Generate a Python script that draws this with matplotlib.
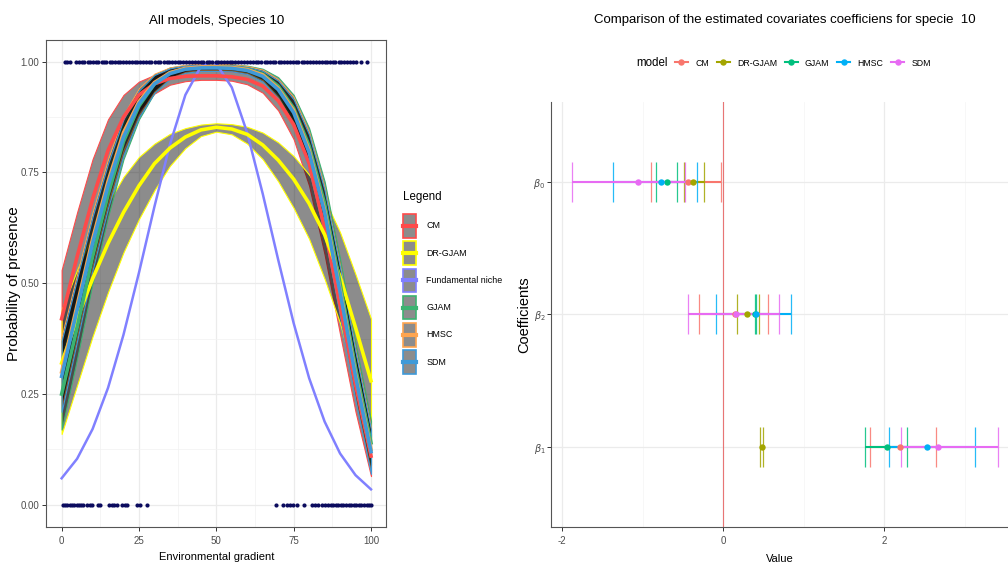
import numpy as np
import matplotlib.pyplot as plt
from matplotlib.patches import Rectangle
from matplotlib.lines import Line2D

plt.rcParams['font.family'] = ['Liberation Sans', 'DejaVu Sans']

# ---- left panel: predicted probability of presence along the gradient ----
grad_x = [0, 5, 10, 15, 20, 25, 30, 35, 40, 45, 50, 55, 60, 65, 70, 75, 80, 85, 90, 95, 100]

cm_mean = [0.42, 0.56, 0.69, 0.80, 0.875, 0.925, 0.95, 0.962, 0.967, 0.968, 0.968, 0.966, 0.96, 0.945, 0.912, 0.858, 0.77, 0.625, 0.45, 0.27, 0.11]
cm_low = [0.31, 0.45, 0.59, 0.72, 0.82, 0.89, 0.928, 0.948, 0.956, 0.959, 0.959, 0.957, 0.949, 0.93, 0.89, 0.825, 0.72, 0.565, 0.385, 0.21, 0.065]
cm_up = [0.53, 0.66, 0.78, 0.87, 0.925, 0.955, 0.97, 0.976, 0.978, 0.979, 0.979, 0.978, 0.973, 0.96, 0.932, 0.888, 0.815, 0.685, 0.515, 0.33, 0.16]

dr_mean = [0.32, 0.42, 0.51, 0.59, 0.66, 0.72, 0.77, 0.805, 0.83, 0.846, 0.852, 0.848, 0.836, 0.812, 0.778, 0.735, 0.68, 0.61, 0.515, 0.40, 0.28]
dr_low = [0.16, 0.27, 0.38, 0.48, 0.57, 0.645, 0.71, 0.765, 0.805, 0.832, 0.842, 0.836, 0.815, 0.78, 0.73, 0.67, 0.60, 0.51, 0.41, 0.28, 0.15]
dr_up = [0.44, 0.53, 0.61, 0.68, 0.74, 0.785, 0.815, 0.837, 0.85, 0.858, 0.861, 0.859, 0.853, 0.84, 0.818, 0.787, 0.745, 0.69, 0.615, 0.52, 0.42]

gjam_mean = [0.25, 0.40, 0.56, 0.70, 0.82, 0.90, 0.95, 0.975, 0.984, 0.987, 0.988, 0.987, 0.983, 0.972, 0.945, 0.895, 0.81, 0.68, 0.50, 0.31, 0.14]
gjam_low = [0.17, 0.33, 0.50, 0.65, 0.78, 0.87, 0.93, 0.963, 0.976, 0.98, 0.981, 0.98, 0.975, 0.96, 0.925, 0.865, 0.77, 0.63, 0.445, 0.255, 0.09]
gjam_up = [0.33, 0.47, 0.62, 0.75, 0.86, 0.93, 0.97, 0.987, 0.992, 0.994, 0.995, 0.994, 0.991, 0.984, 0.965, 0.925, 0.85, 0.73, 0.555, 0.365, 0.19]

hmsc_mean = [0.30, 0.45, 0.60, 0.73, 0.84, 0.91, 0.953, 0.975, 0.985, 0.988, 0.988, 0.987, 0.982, 0.97, 0.94, 0.89, 0.80, 0.665, 0.485, 0.295, 0.125]
hmsc_low = [0.22, 0.38, 0.54, 0.68, 0.80, 0.88, 0.933, 0.963, 0.977, 0.981, 0.981, 0.98, 0.974, 0.958, 0.92, 0.86, 0.76, 0.615, 0.43, 0.24, 0.075]
hmsc_up = [0.38, 0.52, 0.66, 0.78, 0.88, 0.94, 0.973, 0.987, 0.993, 0.995, 0.995, 0.994, 0.99, 0.982, 0.96, 0.92, 0.84, 0.715, 0.54, 0.35, 0.175]

sdm_mean = [0.29, 0.44, 0.59, 0.72, 0.83, 0.905, 0.95, 0.973, 0.983, 0.986, 0.986, 0.985, 0.98, 0.967, 0.937, 0.885, 0.795, 0.66, 0.48, 0.29, 0.12]
sdm_low = [0.21, 0.37, 0.53, 0.67, 0.79, 0.875, 0.93, 0.961, 0.975, 0.979, 0.979, 0.978, 0.972, 0.955, 0.917, 0.855, 0.755, 0.61, 0.425, 0.235, 0.07]
sdm_up = [0.37, 0.51, 0.65, 0.77, 0.87, 0.935, 0.97, 0.985, 0.991, 0.993, 0.993, 0.992, 0.988, 0.979, 0.957, 0.915, 0.835, 0.71, 0.535, 0.345, 0.17]

niche_x = [0, 5, 10, 15, 20, 25, 30, 35, 40, 45, 48, 50, 55, 60, 65, 70, 75, 80, 85, 90, 95, 100]
niche_p = [0.06, 0.104, 0.171, 0.264, 0.384, 0.524, 0.673, 0.813, 0.925, 0.989, 1.0, 0.995, 0.942, 0.839, 0.702, 0.553, 0.41, 0.286, 0.188, 0.116, 0.067, 0.035]

presence_x = [1.1, 1.6, 2.7, 4.8, 5.6, 6.5, 7.3, 8.4, 9.2, 10.1, 11.0, 11.8, 12.9, 13.6, 14.5, 15.5, 16.2, 17.1,
              18.3, 19.0, 19.8, 20.9, 21.7, 22.6, 23.8, 24.5, 25.3, 26.4, 27.2, 28.1, 29.0, 30.2, 31.0, 31.8,
              33.0, 33.9, 34.6, 35.7, 36.5, 37.6, 38.4, 39.3, 40.2, 41.3, 42.1, 43.0, 44.2, 45.0, 45.8, 46.9,
              47.7, 48.6, 49.8, 50.5, 51.4, 52.5, 53.3, 54.4, 55.2, 56.1, 57.0, 58.1, 59.0, 59.8, 60.9, 61.7,
              62.8, 63.6, 64.5, 65.6, 66.4, 67.3, 68.4, 69.1, 70.2, 71.0, 72.0, 72.9, 73.7, 74.8, 75.6, 76.5,
              77.6, 78.4, 79.3, 80.4, 81.2, 82.1, 83.1, 84.0, 85.0, 85.8, 86.8, 87.6, 88.5, 89.6, 90.4, 91.3,
              92.4, 93.2, 94.1, 95.2, 96.7, 98.6]
absence_x = [0.3, 1.0, 1.8, 2.6, 3.3, 4.1, 4.9, 5.7, 6.4, 7.0, 8.3, 9.2, 9.7, 11.6, 12.4, 15.4, 16.2, 17.0,
             18.0, 19.4, 20.5, 21.2, 24.5, 25.3, 27.7, 69.3, 71.7, 72.7, 73.8, 74.9, 76.0, 78.3, 80.8, 81.9,
             83.0, 84.1, 85.1, 86.2, 87.2, 87.8, 88.6, 89.4, 90.3, 91.1, 91.9, 92.8, 93.6, 94.4, 95.3, 96.1,
             96.9, 97.8, 98.6, 99.4, 100.0]

curve_names = ['CM', 'DR-GJAM', 'GJAM', 'HMSC', 'SDM']
curve_cols = ['#ff4a4a', '#ffff00', '#3cb371', '#ffa54f', '#3f9ad8']
curve_means = [cm_mean, dr_mean, gjam_mean, hmsc_mean, sdm_mean]
curve_lows = [cm_low, dr_low, gjam_low, hmsc_low, sdm_low]
curve_ups = [cm_up, dr_up, gjam_up, hmsc_up, sdm_up]
niche_col = '#8080ff'

# ---- right panel: coefficient estimates with intervals ----
models = ['CM', 'DR-GJAM', 'GJAM', 'HMSC', 'SDM']
model_cols = ['#F8766D', '#A3A500', '#00BF7D', '#00B0F6', '#E76BF3']
coef_labels = [r'$\beta_1$', r'$\beta_2$', r'$\beta_0$']

est_b0 = [-0.443, -0.38, -0.70, -0.774, -1.056]
low_b0 = [-0.90, -0.488, -0.83, -1.366, -1.88]
up_b0 = [-0.03, -0.24, -0.571, -0.323, -0.476]
est_b2 = [0.145, 0.30, 0.40, 0.406, 0.16]
low_b2 = [-0.302, 0.166, 0.39, -0.09, -0.439]
up_b2 = [0.56, 0.44, 0.414, 0.837, 0.688]
est_b1 = [2.195, 0.48, 2.03, 2.53, 2.67]
low_b1 = [1.83, 0.456, 1.76, 2.06, 2.21]
up_b1 = [2.64, 0.497, 2.28, 3.13, 3.41]


class RibbonKey:
    """Legend key: grey box with a coloured border and a coloured line through the middle."""
    def legend_artist(self, legend, orig_handle, fontsize, handlebox):
        col = orig_handle.get_color()
        x0, y0 = -handlebox.xdescent, -handlebox.ydescent
        w, h = handlebox.width, handlebox.height
        tr = handlebox.get_transform()
        box = Rectangle((x0, y0), w, h, facecolor='#8c8c8c', edgecolor=col, lw=1.2, transform=tr)
        mid = Line2D([x0, x0 + w], [y0 + h / 2, y0 + h / 2], color=col, lw=3, transform=tr)
        handlebox.add_artist(box)
        handlebox.add_artist(mid)
        return box


fig = plt.figure(figsize=(10.08, 5.70), dpi=100)
ax1 = fig.add_axes([0.0458, 0.0754, 0.3376, 0.8553])
ax2 = fig.add_axes([0.5466, 0.076, 0.4534, 0.745])

# left panel
for t in [0, 25, 50, 75, 100]:
    ax1.axvline(t, color='#ebebeb', lw=0.9, zorder=0)
for t in [12.5, 37.5, 62.5, 87.5]:
    ax1.axvline(t, color='#f2f2f2', lw=0.5, zorder=0)
for t in [0, 0.25, 0.5, 0.75, 1.0]:
    ax1.axhline(t, color='#ebebeb', lw=0.9, zorder=0)
for t in [0.125, 0.375, 0.625, 0.875]:
    ax1.axhline(t, color='#f2f2f2', lw=0.5, zorder=0)

for name, col, lo, up in zip(curve_names, curve_cols, curve_lows, curve_ups):
    ax1.fill_between(grad_x, lo, up, facecolor=(0, 0, 0, 0.45), edgecolor=col, lw=0.8, zorder=2)

ax1.plot(niche_x, niche_p, color=niche_col, lw=1.8, zorder=3)
for name, col, m in zip(curve_names, curve_cols, curve_means):
    ax1.plot(grad_x, m, color=col, lw=2.6, zorder=4)

ax1.plot(presence_x, [1.0] * len(presence_x), 'o', color='#0b0b5e', ms=3, mew=0, zorder=5)
ax1.plot(absence_x, [0.0] * len(absence_x), 'o', color='#0b0b5e', ms=3, mew=0, zorder=5)

ax1.set_xlim(-5, 105)
ax1.set_ylim(-0.05, 1.05)
ax1.set_xticks([0, 25, 50, 75, 100])
ax1.set_xticklabels(['0', '25', '50', '75', '100'])
ax1.set_yticks([0, 0.25, 0.5, 0.75, 1.0])
ax1.set_yticklabels(['0.00', '0.25', '0.50', '0.75', '1.00'])
ax1.tick_params(labelsize=7, length=3, color='#333333', labelcolor='#4d4d4d', width=0.7)
ax1.tick_params(axis='y', pad=2)
for s in ax1.spines.values():
    s.set_color('#555555')
    s.set_linewidth(0.8)
ax1.set_title('All models, Species 10', fontsize=9.6, pad=11)
ax1.set_xlabel('Environmental gradient', fontsize=8, labelpad=4)
ax1.set_ylabel('Probability of presence', fontsize=11)
ax1.yaxis.set_label_coords(-0.075, 0.5)

key_cols = [curve_cols[0], curve_cols[1], niche_col, curve_cols[2], curve_cols[3], curve_cols[4]]
key_labels = ['CM', 'DR-GJAM', 'Fundamental niche', 'GJAM', 'HMSC', 'SDM']
key_handles = [Line2D([], [], color=c) for c in key_cols]
fig.text(403 / 1008, 1 - 197 / 570, 'Legend', ha='left', va='center', fontsize=8.3)
fig.legend(key_handles, key_labels, handler_map={Line2D: RibbonKey()},
           loc='upper left', bbox_to_anchor=(395 / 1008, 1 - 206 / 570), frameon=False,
           fontsize=6.4, handlelength=1.45, handleheight=3.7, labelspacing=0.42, handletextpad=1.15)

# right panel
for t in [-2, 0, 2]:
    ax2.axvline(t, color='#ebebeb', lw=0.9, zorder=0)
for t in [-1, 1, 3]:
    ax2.axvline(t, color='#f4f4f4', lw=0.5, zorder=0)
for t in [1, 2, 3]:
    ax2.axhline(t, color='#ebebeb', lw=0.9, zorder=0)
ax2.axvline(0, color='#e87575', lw=0.8, zorder=1)

rows = [(3, est_b0, low_b0, up_b0), (2, est_b2, low_b2, up_b2), (1, est_b1, low_b1, up_b1)]
for i, col in enumerate(model_cols):
    for y, est, lo, up in rows:
        ax2.hlines(y, lo[i], up[i], color=col, lw=1.5, zorder=2)
        ax2.vlines([lo[i], up[i]], y - 0.15, y + 0.15, color=col, lw=0.9, alpha=0.85, zorder=2)
for i, col in enumerate(model_cols):
    for y, est, lo, up in rows:
        ax2.plot(est[i], y, 'o', color=col, ms=4.6, mew=0, zorder=3)

ax2.set_xlim(-2.14, 3.54)
ax2.set_ylim(0.4, 3.6)
ax2.set_xticks([-2, 0, 2])
ax2.set_xticklabels(['-2', '0', '2'])
ax2.set_yticks([1, 2, 3])
ax2.set_yticklabels(coef_labels)
ax2.tick_params(labelsize=7, length=3, color='#333333', labelcolor='#4d4d4d', width=0.7)
ax2.tick_params(axis='y', pad=1)
ax2.spines['top'].set_visible(False)
ax2.spines['right'].set_visible(False)
for s in ['left', 'bottom']:
    ax2.spines[s].set_color('#555555')
    ax2.spines[s].set_linewidth(0.8)
ax2.set_xlabel('Value', fontsize=8, labelpad=6)
ax2.set_ylabel('Coefficients', fontsize=10.5)
ax2.yaxis.set_label_coords(-0.043, 0.5)

fig.text(785 / 1008, 1 - 20 / 570, 'Comparison of the estimated covariates coefficiens for specie  10',
         ha='center', va='center', fontsize=9.5)
fig.text(636 / 1008, 1 - 63 / 570, 'model', ha='left', va='center', fontsize=8.3)
mhandles = [Line2D([], [], color=c, lw=1.5, marker='o', ms=4.6, mew=0) for c in model_cols]
fig.legend(mhandles, models, loc='center left', bbox_to_anchor=(667 / 1008, 1 - 63 / 570), ncol=5,
           frameon=False, fontsize=6.3, handlelength=1.5, handletextpad=0.8, columnspacing=0.9)

fig.savefig('out.png', dpi=100)
